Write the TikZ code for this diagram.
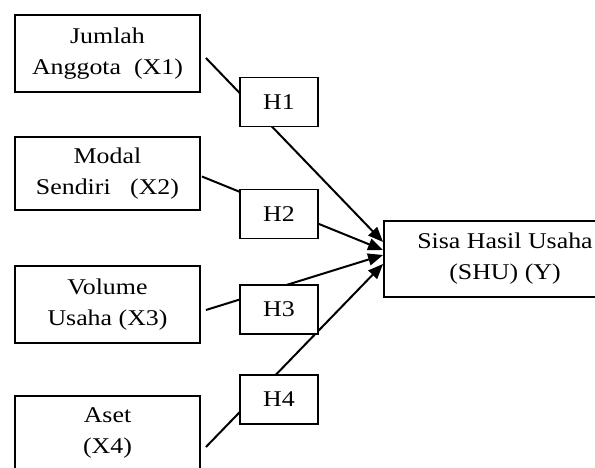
\documentclass[tikz,border=0pt]{standalone}
\usepackage{fontspec}
\setmainfont{Liberation Serif}[FakeStretch=1.15]
\usetikzlibrary{positioning, arrows.meta}

\tikzset{
  var/.style={draw, line width=1.9pt, minimum width=185pt, minimum height=77pt, inner sep=0pt, align=center, font=\fontsize{22.5}{31}\selectfont},
  hyp/.style={draw, fill=white, line width=1.9pt, minimum width=78pt, minimum height=49pt, inner sep=0pt, font=\fontsize{22.5}{31}\selectfont},
  link/.style={line width=2pt, -{Triangle[length=15pt,width=12pt]}}
}

\begin{document}
\begin{tikzpicture}[x=1pt,y=-1pt]
    \useasboundingbox (0,0) rectangle (595,468);
    % variables
    \node[var] (X1) at (107.5,53.5) {Jumlah\\Anggota\ \ (X1)};
    \node[var, minimum height=73pt] (X2) at (107.5,173.5) {Modal\\Sendiri\ \ \ (X2)};
    \node[var] (X3) at (107.5,304.5) {Volume\\Usaha (X3)};
    \node[var, minimum height=110pt, text depth=40pt] (X4) at (107.5,451) {Aset\\(X4)};
    \node[var, minimum width=242pt, minimum height=76pt] (Y) at (505,259) {Sisa Hasil Usaha\\(SHU) (Y)};
    % line ends
    \coordinate (S1) at ([shift={(5,4.5)}]X1.east);
    \coordinate (S2) at ([shift={(1,3)}]X2.east);
    \coordinate (S3) at ([shift={(5,5.5)}]X3.east);
    \coordinate (S4) at ([shift={(5,-4)}]X4.east);
    \coordinate (T1) at ([shift={(0,-17)}]Y.west);
    \coordinate (T2) at ([shift={(0,-9)}]Y.west);
    \coordinate (T3) at ([shift={(0,-4)}]Y.west);
    \coordinate (T4) at ([shift={(0,5)}]Y.west);
    \draw[link] (S1) -- (T1);
    \draw[link] (S2) -- (T2);
    \draw[link] (S3) -- (T3);
    \draw[link] (S4) -- (T4);
    % hypotheses
    \node[hyp] (H1) at (279,102) {H1};
    \node[hyp] (H2) at (279,214) {H2};
    \node[hyp] (H3) at (279,309.5) {H3};
    \node[hyp] (H4) at (279,399.5) {H4};
\end{tikzpicture}
\end{document}
